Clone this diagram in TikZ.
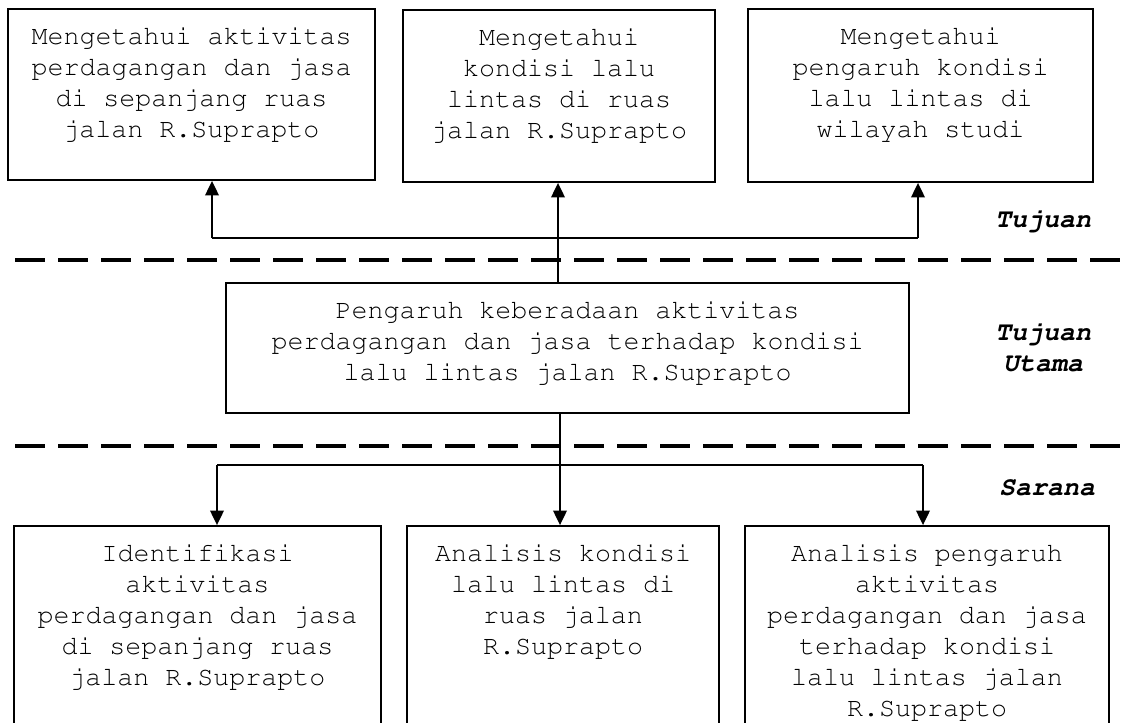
\documentclass[tikz,border=0pt]{standalone}
\usepackage[T1]{fontenc}
\renewcommand{\ttdefault}{pcr}
\usetikzlibrary{arrows.meta,fit,calc}

\begin{document}
\begin{tikzpicture}[x=0.75pt,y=-0.75pt,
  box/.style={draw, line width=1.2pt, inner sep=0pt},
  txt/.style={anchor=north, align=center, inner sep=0pt,
    font=\ttfamily\fontsize{20}{23.25}\selectfont},
  lbl/.style={anchor=base, align=center, inner sep=0pt,
    font=\ttfamily\bfseries\itshape\fontsize{20}{23.25}\selectfont},
  sep/.style={line width=3pt, dash pattern=on 22.5pt off 9.75pt},
  link/.style={line width=1pt},
  arr/.style={line width=2pt, -{Triangle[length=11pt,width=10pt]}}
]
\clip (0,0) rectangle (1128,722);
\fill[white] (0,0) rectangle (1128,722);

% goals (top row)
\node[box, fit={(8,9) (375,180)}] (t1) {};
\node[box, fit={(403,10) (715,182)}] (t2) {};
\node[box, fit={(748,9) (1093,182)}] (t3) {};
\node[txt] (t1x) at ($(t1.north)+(0,19)$)
  {Mengetahui aktivitas\\perdagangan dan jasa\\di sepanjang ruas\\jalan R.Suprapto};
\node[txt] (t2x) at ($(t2.north)+(0,19)$)
  {Mengetahui\\kondisi lalu\\lintas di ruas\\jalan R.Suprapto};
\node[txt] (t3x) at ($(t3.north)+(0,19)$)
  {Mengetahui\\pengaruh kondisi\\lalu lintas di\\wilayah studi};

% main goal
\node[box, fit={(226,283) (909,413)}] (m) {};
\node[txt] (mx) at ($(m.north)+(0,19)$)
  {Pengaruh keberadaan aktivitas\\perdagangan dan jasa terhadap kondisi\\lalu lintas jalan R.Suprapto};

% means (bottom row)
\node[box, fit={(14,526) (381,740)}] (b1) {};
\node[box, fit={(407,526) (719,740)}] (b2) {};
\node[box, fit={(745,526) (1109,740)}] (b3) {};
\node[txt] (b1x) at ($(b1.north)+(0,19)$)
  {Identifikasi\\aktivitas\\perdagangan dan jasa\\di sepanjang ruas\\jalan R.Suprapto};
\node[txt] (b2x) at ($(b2.north)+(0,19)$)
  {Analisis kondisi\\lalu lintas di\\ruas jalan\\R.Suprapto};
\node[txt] (b3x) at ($(b3.north)+(0,19)$)
  {Analisis pengaruh\\aktivitas\\perdagangan dan jasa\\terhadap kondisi\\lalu lintas jalan\\R.Suprapto};

% level separators
\coordinate (s1a) at (15,260);  \coordinate (s1b) at (1128,260);
\coordinate (s2a) at (15,446);  \coordinate (s2b) at (1128,446);
\draw[sep] (s1a) -- (s1b);
\draw[sep] (s2a) -- (s2b);

% level labels
\node[lbl] (l1) at (1043,227) {Tujuan};
\node[lbl] (l2) at (1043,371) {Tujuan\\Utama};
\node[lbl] (l3) at (1047,495) {Sarana};

% upper connectors
\coordinate (ja) at (212,238);
\coordinate (jb) at (558,238);
\coordinate (jc) at (918,238);
\draw[link] (ja) -- (jc);
\draw[arr] (m.north -| jb) -- (t2.south -| jb);
\draw[arr] (ja) -- (t1.south -| ja);
\draw[arr] (jc) -- (t3.south -| jc);

% lower connectors
\coordinate (ka) at (217,465);
\coordinate (kb) at (560,465);
\coordinate (kc) at (923,465);
\draw[link] (ka) -- (kc);
\draw[arr] (m.south -| kb) -- (b2.north -| kb);
\draw[arr] (ka) -- (b1.north -| ka);
\draw[arr] (kc) -- (b3.north -| kc);
\end{tikzpicture}
\end{document}
